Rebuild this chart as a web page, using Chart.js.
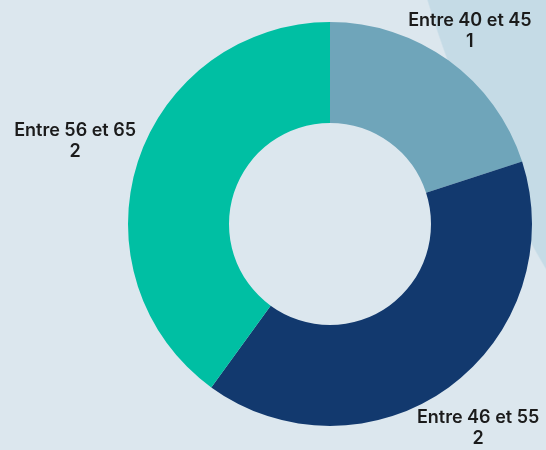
<!DOCTYPE html>
<html>
<head>
<meta charset="utf-8">
<script src="https://cdn.jsdelivr.net/npm/chart.js@4/dist/chart.umd.min.js"></script>
<style>
  html, body { margin: 0; padding: 0; }
  body {
    width: 546px; height: 450px; overflow: hidden;
    background: radial-gradient(circle 1255px at 1627px -368px, #c5dbe6 1254px, #dce7ee 1255.5px);
  }
  #wrap { position: relative; width: 546px; height: 450px; }
</style>
</head>
<body>
<div id="wrap"><canvas id="c"></canvas></div>
<script>
const categories = ["Entre 40 et 45", "Entre 46 et 55", "Entre 56 et 65"];
const values = [1, 2, 2];
const colors = ["#6fa5ba", "#12396e", "#00bfa3"];

const outLabels = {
  id: 'outLabels',
  afterDatasetsDraw(chart, args, opts) {
    const ctx = chart.ctx;
    const meta = chart.getDatasetMeta(0);
    const data = chart.data.datasets[0].data;
    ctx.save();
    ctx.fillStyle = opts.color;
    ctx.font = opts.font;
    ctx.textAlign = 'center';
    ctx.textBaseline = 'middle';
    meta.data.forEach((arc, i) => {
      const p = arc.getProps(['x', 'y', 'startAngle', 'endAngle', 'outerRadius'], true);
      const mid = (p.startAngle + p.endAngle) / 2;
      const d = p.outerRadius + opts.offsets[i];
      const cx = p.x + Math.cos(mid) * d;
      const cy = p.y + Math.sin(mid) * d;
      const lh = opts.lineHeight;
      ctx.fillText(chart.data.labels[i], cx, cy - lh / 2);
      ctx.fillText(String(data[i]), cx, cy + lh / 2);
    });
    ctx.restore();
  }
};

new Chart(document.getElementById('c'), {
  type: 'doughnut',
  data: {
    labels: categories,
    datasets: [{
      data: values,
      backgroundColor: colors,
      borderWidth: 0,
      hoverOffset: 0
    }]
  },
  options: {
    responsive: true,
    maintainAspectRatio: false,
    animation: false,
    cutout: '50%',
    layout: { padding: { top: 22, bottom: 24, left: 128, right: 14 } },
    plugins: {
      legend: { display: false },
      tooltip: { enabled: false },
      outLabels: {
        offsets: [36, 50, 66],
        lineHeight: 21,
        color: '#1b1b1b',
        font: '600 18px Inter'
      }
    }
  },
  plugins: [outLabels]
});
</script>
</body>
</html>
